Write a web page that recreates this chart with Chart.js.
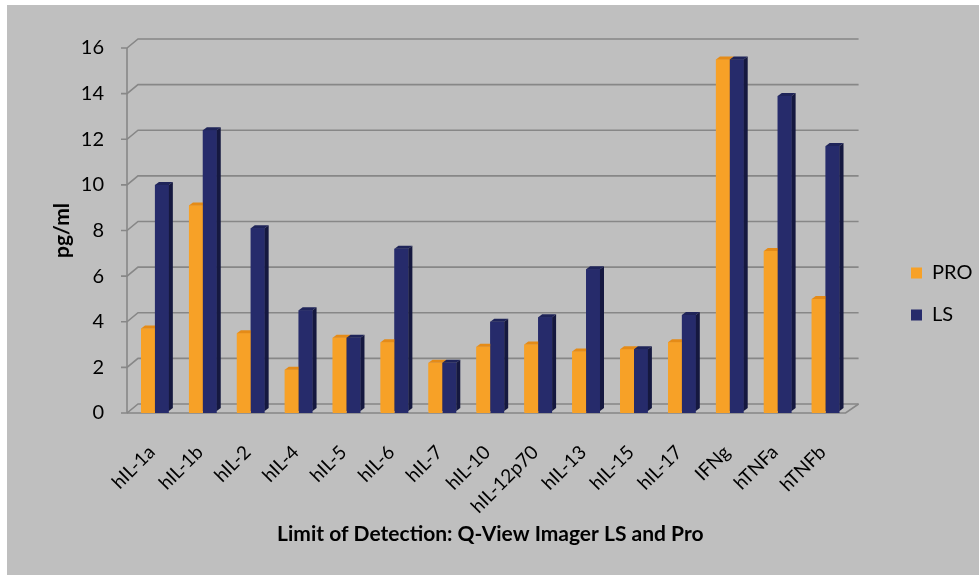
<!DOCTYPE html>
<html><head><meta charset="utf-8">
<script src="https://cdn.jsdelivr.net/npm/chart.js@4.4.1/dist/chart.umd.min.js"></script>
<style>html,body{margin:0;padding:0;background:#fff;}#wrap{width:979px;height:575px;position:relative}</style>
</head><body><div id="wrap"><canvas id="c" width="979" height="575"></canvas></div>
<script>
const categories = ["hIL-1a","hIL-1b","hIL-2","hIL-4","hIL-5","hIL-6","hIL-7","hIL-10","hIL-12p70","hIL-13","hIL-15","hIL-17","IFNg","hTNFa","hTNFb"];
const proValues = [3.7, 9.1, 3.5, 1.9, 3.3, 3.1, 2.2, 2.9, 3.0, 2.7, 2.8, 3.1, 15.5, 7.1, 5.0];
const lsValues  = [10.0, 12.4, 8.1, 4.5, 3.3, 7.2, 2.2, 4.0, 4.2, 6.3, 2.8, 4.3, 15.5, 13.9, 11.7];
const seriesNames = ["PRO", "LS"];
const yMin = 0, yMax = 16, yStep = 2;
const xTitle = "Limit of Detection: Q-View Imager LS and Pro";
const yTitle = "pg/ml";

const FONT = "Lato, 'Open Sans', sans-serif";
const COLORS = [
  {front:'#f7a127', top:'#e58b17', side:'#c97a12'},
  {front:'#262b6b', top:'#1f2459', side:'#15183f'}
];
const DX = 11, DY = -9;   // back-wall offset
const BD = 4, BH = 3;     // bar depth offsets
const SHIFT = 4;          // front axis sits left of bar area

const bgPlugin = {
  id:'bg',
  beforeDraw(chart){
    const c = chart.ctx;
    c.save();
    c.fillStyle = '#ffffff'; c.fillRect(0,0,chart.width,chart.height);
    c.fillStyle = '#bfbfbf'; c.fillRect(7,5,chart.width-7,chart.height-5);
    c.restore();
  }
};

const wallPlugin = {
  id:'walls',
  beforeDatasetsDraw(chart){
    const c = chart.ctx, a = chart.chartArea, ys = chart.scales.y;
    const fl = a.left - SHIFT, fr = a.right - SHIFT;
    c.save();
    c.strokeStyle = '#878787';
    c.lineWidth = 1.6;
    ys.ticks.forEach(t => {
      const y = ys.getPixelForValue(t.value);
      c.beginPath();
      c.moveTo(fl - 6, y); c.lineTo(fl, y);
      c.lineTo(fl + DX, y + DY);
      c.lineTo(fr + DX + 2, y + DY);
      c.stroke();
    });
    const y0 = ys.getPixelForValue(yMin), y1 = ys.getPixelForValue(yMax);
    c.beginPath(); c.moveTo(fl, y1); c.lineTo(fl, y0); c.stroke();
    c.beginPath();
    c.moveTo(fl, y0); c.lineTo(fr, y0); c.lineTo(fr + DX + 2, y0 + DY);
    c.stroke();
    c.restore();
  }
};

const bars3d = {
  id:'bars3d',
  afterDatasetsDraw(chart){
    const c = chart.ctx;
    const metas = [chart.getDatasetMeta(0), chart.getDatasetMeta(1)];
    c.save();
    for (let i = 0; i < categories.length; i++){
      metas.forEach((m, k) => {
        const el = m.data[i];
        const p = el.getProps(['x','y','base','width'], true);
        const l = p.x - p.width/2, r = p.x + p.width/2, y = p.y, b = p.base - 2;
        const col = COLORS[k];
        c.fillStyle = col.front; c.fillRect(l, y, p.width, b - y);
        c.fillStyle = col.top;
        c.beginPath(); c.moveTo(l,y); c.lineTo(l+BD,y-BH); c.lineTo(r+BD,y-BH); c.lineTo(r,y); c.closePath(); c.fill();
        c.fillStyle = col.side;
        c.beginPath(); c.moveTo(r,y); c.lineTo(r+BD,y-BH); c.lineTo(r+BD,b-BH); c.lineTo(r,b); c.closePath(); c.fill();
      });
    }
    c.restore();
  }
};

const legendShift = {
  id:'legendShift',
  afterLayout(chart){
    const L = chart.legend; if(!L) return;
    const pad = L.options.labels.padding;
    const dx = 911 - (L.left + pad);
    L.left += dx; L.right += dx;
    const h = L.height;
    L.top = 263 - pad; L.bottom = L.top + h;
  }
};

new Chart(document.getElementById('c'), {
  type:'bar',
  data:{
    labels: categories,
    datasets:[
      {label: seriesNames[0], data: proValues, backgroundColor: COLORS[0].front, borderWidth:0},
      {label: seriesNames[1], data: lsValues, backgroundColor: COLORS[1].front, borderWidth:0}
    ]
  },
  options:{
    responsive:false, animation:false,
    layout:{padding:{top:48, left:0, right:36, bottom:0}},
    datasets:{bar:{barPercentage:1.0, categoryPercentage:0.58}},
    plugins:{
      legend:{
        position:'right', align:'start',
        labels:{boxWidth:11, boxHeight:11, padding:22, color:'#000', font:{family:FONT, size:20}}
      },
      tooltip:{enabled:false}
    },
    scales:{
      x:{
        grid:{display:false, drawTicks:false}, border:{display:false},
        ticks:{autoSkip:false, maxRotation:45, minRotation:45, padding:28, labelOffset:-3, color:'#000', font:{family:FONT, size:19}},
        title:{display:true, text:xTitle, color:'#000', font:{family:FONT, size:21, weight:'bold'}, padding:{top:0, bottom:28}},
        afterFit(s){ s.height = 162; }
      },
      y:{
        min:yMin, max:yMax,
        grid:{display:false, drawTicks:false}, border:{display:false},
        ticks:{stepSize:yStep, padding:27, color:'#000', font:{family:FONT, size:20}},
        title:{display:true, text:yTitle, color:'#000', font:{family:FONT, size:21, weight:'bold'}, padding:{top:50, bottom:0}},
        afterFit(s){ s.width = 131; }
      }
    }
  },
  plugins:[bgPlugin, wallPlugin, bars3d, legendShift]
});
</script>
</body></html>
